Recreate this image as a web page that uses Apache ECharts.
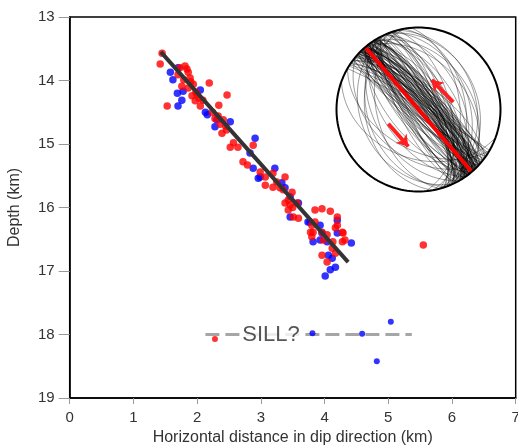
<!DOCTYPE html>
<html><head><meta charset="utf-8">
<script src="https://cdn.jsdelivr.net/npm/echarts@6/dist/echarts.min.js"></script>
<style>html,body{margin:0;padding:0;background:#fff}#c{width:518px;height:445px}</style>
</head><body><div id="c"></div>
<script>
// ---- data (km) ----
const redPoints = [
 [1.42,13.74],[1.53,14.40],[2.19,14.04],[2.47,14.23],[2.34,14.39],[1.73,13.80],[1.81,13.77],[1.86,13.87],
 [1.70,13.91],[1.79,13.99],[1.89,13.96],[1.76,14.09],[1.86,14.12],[1.94,14.06],[1.98,14.18],[1.92,14.24],
 [2.03,14.28],[1.97,14.32],[2.09,14.31],[2.05,14.40],[1.45,13.57],[2.24,14.50],[2.33,14.56],[2.41,14.62],
 [2.45,14.72],[2.36,14.69],[2.39,14.83],[2.46,14.78],[2.57,14.98],[2.52,15.05],[2.64,15.05],[2.88,15.02],
 [2.72,15.28],[2.79,15.33],[2.99,15.44],[3.07,15.52],[3.19,15.46],[3.38,15.52],[3.07,15.65],[3.19,15.68],
 [3.30,15.69],[3.35,15.72],[3.43,15.88],[3.38,15.93],[3.46,15.96],[3.57,15.93],[3.43,16.04],[3.51,16.15],
 [3.59,16.17],[3.85,16.04],[3.96,16.02],[4.09,16.06],[4.20,16.15],[3.80,16.28],[3.85,16.23],[4.20,16.28],
 [4.17,16.32],[4.29,16.40],[3.82,16.39],[3.78,16.39],[3.96,16.39],[4.04,16.43],[4.28,16.39],[3.98,16.51],
 [4.13,16.54],[4.28,16.54],[4.32,16.51],[4.12,16.64],[4.17,16.72],[3.96,16.75],[4.04,16.86],[3.80,16.46],
 [3.49,15.76],[1.84,13.82],[1.90,14.02],[2.00,14.22],[2.28,14.60],[3.25,15.60],[3.50,16.00],[5.55,16.59]
];
const bluePoints = [
 [1.70,13.80],[1.58,13.87],[1.62,13.99],[1.69,14.20],[1.78,14.17],[1.76,14.31],[1.70,14.40],[2.05,14.15],
 [2.13,14.50],[2.16,14.54],[2.31,14.62],[2.52,14.65],[2.28,14.73],[2.91,14.91],[2.83,15.14],[2.88,15.38],
 [2.96,15.54],[3.22,15.38],[3.33,15.61],[2.99,15.52],[3.46,15.83],[3.59,15.93],[3.46,16.15],[3.74,16.23],
 [4.20,16.20],[3.93,16.28],[3.96,16.40],[4.20,16.40],[3.93,16.51],[3.82,16.54],[4.04,16.54],[4.42,16.56],
 [4.06,16.75],[4.12,16.80],[4.17,16.94],[4.09,16.98],[4.01,17.08],[3.77,16.23],[3.38,15.69]
];
const sillRed = [[2.28,18.07]];
const sillBlue = [[3.81,17.98],[4.59,17.99],[5.04,17.80],[4.82,18.42]];
const fitLine = [[1.43,13.55],[4.37,16.86]];
const sillLine = [[2.13,18.0],[5.37,18.0]];
const sillLabel = {text:'SILL?', x:3.16, y:18.0};
const xTicks = [0,1,2,3,4,5,6,7];
const yTicks = [13,14,15,16,17,18,19];

// stereonet planes (strike, dip), right-hand rule
const planeStrikes = [
 318,322,315,325,320,312,328,316,323,319,330,310,326,314,321,317,324,313,327,320,318,322,315,311,329,332,308,319,325,316,
 305,335,338,302,342,333,307,336,340,304,331,309,334,337,303,345,300,339,306,341,321,317,324,313,328,319,326,315,322,330,
 320,316,324,312,327,318,322,314,329,317,325,311,321,319,323,313,326,315,328,320,
 140,136,143,138,145,133,141,147,135,139,142,137,130,149,144,128,152,125,155,132,146,134,150,127,148,131,153,138,143,136,
 335,340,328,345,330,350,325,355,320,338,
 150,160,145,155,165,120,110,140,170,130];
const planeDips = [
 88,85,82,80,78,84,86,76,74,72,82,80,70,68,66,87,83,79,77,75,71,89,86,74,73,79,83,64,62,81,
 78,75,70,84,68,80,72,66,63,76,85,69,77,60,81,58,87,74,65,71,88,84,80,76,73,69,67,82,86,78,
 83,79,75,71,68,86,81,77,73,69,84,80,76,72,87,82,78,74,70,85,
 86,83,80,78,84,76,74,82,88,72,70,85,81,77,87,79,75,84,80,86,73,82,78,85,76,89,71,83,81,87,
 45,38,52,30,58,42,35,48,40,28,
 45,38,55,30,48,50,40,62,35,42];
const mainPlane = {strike:139.5, dip:90};
const arrowUp = [[0.424,0.089],[0.161,0.362]];
const arrowDown = [[-0.368,-0.174],[-0.124,-0.451]];

function greatCircle(strike, dip, scale){
  const pts=[]; const s=strike*Math.PI/180, d=dip*Math.PI/180;
  const sv=[Math.sin(s),Math.cos(s)]; const dd=s+Math.PI/2;
  const dv=[Math.sin(dd)*Math.cos(d),Math.cos(dd)*Math.cos(d),Math.sin(d)];
  for(let i=0;i<=120;i++){
    const r=i*Math.PI/120;
    const vx=Math.cos(r)*sv[0]+Math.sin(r)*dv[0];
    const vy=Math.cos(r)*sv[1]+Math.sin(r)*dv[1];
    const vz=Math.min(1,Math.sin(r)*dv[2]);
    const pl=Math.asin(vz); const tr=Math.atan2(vx,vy);
    const rho=Math.SQRT2*Math.sin((Math.PI/2-pl)/2)*(scale||1);
    pts.push([rho*Math.sin(tr),rho*Math.cos(tr)]);
  }
  return pts;
}
const circlePts=[]; for(let i=0;i<=180;i++){const a=i*Math.PI/90; circlePts.push([Math.cos(a),Math.sin(a)]);}

const font='"Liberation Sans", Arial, sans-serif';
const series=[
 {type:'scatter',xAxisIndex:0,yAxisIndex:0,data:bluePoints,symbolSize:7.5,itemStyle:{color:'#0000ff'},z:3},
 {type:'scatter',xAxisIndex:0,yAxisIndex:0,data:redPoints,symbolSize:7.5,itemStyle:{color:'#ff0000'},z:3},
 {type:'line',xAxisIndex:0,yAxisIndex:0,data:fitLine,symbol:'none',lineStyle:{color:'#333',width:4},z:4},
 {type:'line',xAxisIndex:0,yAxisIndex:0,data:sillLine,symbol:'none',lineStyle:{color:'#a6a6a6',width:3,type:[14,6]},z:2},
 {type:'scatter',xAxisIndex:0,yAxisIndex:0,data:[[sillLabel.x,sillLabel.y]],symbolSize:0,z:5,
  label:{show:true,position:'inside',formatter:sillLabel.text,fontFamily:font,fontSize:22,color:'#2a2a2a',backgroundColor:'#fff',padding:[0,2]}},
 {type:'scatter',xAxisIndex:0,yAxisIndex:0,data:sillRed,symbolSize:6,itemStyle:{color:'#ff0000'},z:6},
 {type:'scatter',xAxisIndex:0,yAxisIndex:0,data:sillBlue,symbolSize:6,itemStyle:{color:'#0000ff'},z:6}
];
for(let i=0;i<planeStrikes.length;i++){
  series.push({type:'line',xAxisIndex:1,yAxisIndex:1,data:greatCircle(planeStrikes[i],planeDips[i]),symbol:'none',clip:false,
    lineStyle:{color:'#000',width:0.7,opacity:0.55},z:5,silent:true});
}
series.push({type:'line',xAxisIndex:1,yAxisIndex:1,data:greatCircle(mainPlane.strike,mainPlane.dip,0.99),symbol:'none',clip:false,lineStyle:{color:'#ff0000',width:4},z:7});
series.push({type:'line',xAxisIndex:1,yAxisIndex:1,data:circlePts,symbol:'none',clip:false,lineStyle:{color:'#000',width:2},z:8});
series.push({type:'lines',coordinateSystem:'cartesian2d',xAxisIndex:1,yAxisIndex:1,symbol:['none','arrow'],symbolSize:11,
  lineStyle:{color:'#ff2020',width:4,opacity:1},z:9,data:[{coords:arrowUp},{coords:arrowDown}]});

const chart=echarts.init(document.getElementById('c'),null,{renderer:'canvas'});
chart.setOption({
  animation:false, backgroundColor:'#fff',
  grid:[{left:69.7,right:2.3,top:17,bottom:47,outerBoundsMode:'none',containLabel:false,show:true,borderColor:'#000',borderWidth:1.5,backgroundColor:'transparent'},
        {left:336.5,top:27.5,width:164,height:164,outerBoundsMode:'none',containLabel:false,show:false}],
  xAxis:[{type:'value',gridIndex:0,min:xTicks[0],max:xTicks[xTicks.length-1],interval:1,
     name:'Horizontal distance in dip direction (km)',nameLocation:'middle',nameGap:32,
     nameTextStyle:{fontFamily:font,fontSize:16,color:'#333'},
     axisLine:{show:true,lineStyle:{color:'#000',width:1.5}},axisTick:{show:true,length:6,lineStyle:{color:'#999'}},
     axisLabel:{fontFamily:font,fontSize:15,color:'#333',margin:12},splitLine:{show:false}},
    {type:'value',gridIndex:1,min:-1,max:1,show:false}],
  yAxis:[{type:'value',gridIndex:0,inverse:true,min:yTicks[0],max:yTicks[yTicks.length-1],interval:1,
     name:'Depth (km)',nameLocation:'middle',nameGap:47,
     nameTextStyle:{fontFamily:font,fontSize:16,color:'#333'},
     axisLine:{show:true,lineStyle:{color:'#000',width:1.5}},axisTick:{show:true,length:11,lineStyle:{color:'#999'}},
     axisLabel:{fontFamily:font,fontSize:15,color:'#333',margin:15},splitLine:{show:false}},
    {type:'value',gridIndex:1,min:-1,max:1,show:false}],
  series:series
});
</script></body></html>
